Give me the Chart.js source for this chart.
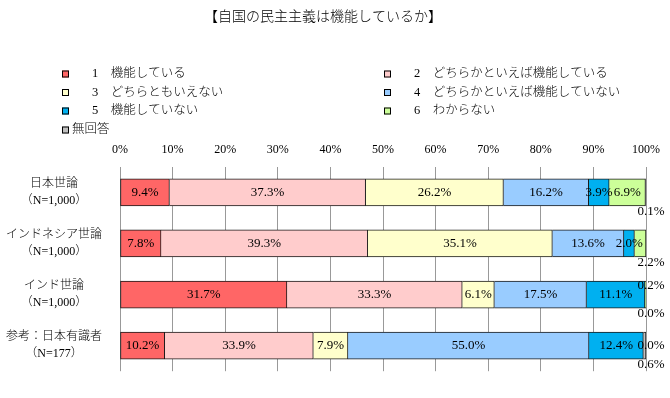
<!DOCTYPE html>
<html>
<head>
<meta charset="utf-8">
<script src="https://cdn.jsdelivr.net/npm/chart.js@4.4.0/dist/chart.umd.min.js"></script>
<style>
  html, body { margin: 0; padding: 0; background: #fff; }
  #wrap { width: 670px; height: 398px; }
</style>
</head>
<body>
<div id="wrap"><canvas id="chart"></canvas></div>
<script>
// Data
const chartTitle = '【自国の民主主義は機能しているか】';
const categories = [
  ['日本世論', '（N=1,000）'],
  ['インドネシア世論', '（N=1,000）'],
  ['インド世論', '（N=1,000）'],
  ['参考：日本有識者', '（N=177）']
];
const seriesNames = [
  '1　機能している',
  '2　どちらかといえば機能している',
  '3　どちらともいえない',
  '4　どちらかといえば機能していない',
  '5　機能していない',
  '6　わからない',
  '無回答'
];
const answer1 = [9.4, 7.8, 31.7, 10.2];
const answer2 = [37.3, 39.3, 33.3, 33.9];
const answer3 = [26.2, 35.1, 6.1, 7.9];
const answer4 = [16.2, 13.6, 17.5, 55.0];
const answer5 = [3.9, 2.0, 11.1, 12.4];
const answer6 = [6.9, 2.2, 0.2, 0.0];
const noAnswer = [0.1, 0.0, 0.0, 0.6];
const tickLabels = ['0%', '10%', '20%', '30%', '40%', '50%', '60%', '70%', '80%', '90%', '100%'];

const seriesValues = [answer1, answer2, answer3, answer4, answer5, answer6, noAnswer];
const colors = ['#FF6666', '#FFCCCC', '#FFFFCC', '#99CCFF', '#00B0F0', '#CCFF99', '#C0C0C0'];

// small segments whose label sits outside the bar ("row,series")
const labelPlacement = {
  '0,6': 'below',
  '1,5': 'below', '1,6': 'none',
  '2,5': 'above', '2,6': 'below',
  '3,5': 'right', '3,6': 'below'
};

const FONT = '"Liberation Serif", "Noto Sans CJK JP", serif';

// each row is drawn as 100% of its own total
const rowTotals = categories.map((c, i) => seriesValues.reduce((s, arr) => s + arr[i], 0));

const datasets = seriesValues.map((vals, k) => ({
  label: seriesNames[k],
  data: vals.map((v, i) => v / rowTotals[i] * 100),
  raw: vals,
  backgroundColor: colors[k],
  borderColor: '#1a1a1a',
  borderWidth: k === 0 ? 1 : { top: 1, right: 1, bottom: 1, left: 0 },
  borderSkipped: false,
  barThickness: 27
}));

// legend in two columns, drawn on the canvas
const legendPlugin = {
  id: 'sheetLegend',
  afterDraw(chart) {
    const ctx = chart.ctx;
    const colX = [62, 384];
    const rowY = [74, 92.5, 111, 130];
    ctx.save();
    ctx.font = '300 12.5px ' + FONT;
    ctx.textBaseline = 'middle';
    seriesNames.forEach((name, k) => {
      const x = colX[k % 2];
      const y = rowY[Math.floor(k / 2)];
      ctx.fillStyle = colors[k];
      ctx.fillRect(x, y - 3.5, 7, 7);
      ctx.strokeStyle = '#000';
      ctx.lineWidth = 1;
      ctx.strokeRect(x + 0.5, y - 3, 6, 6);
      ctx.fillStyle = '#000';
      const tx = /^\d/.test(name) ? x + 30 : x + 10;
      ctx.fillText(name, tx, y);
    });
    ctx.restore();
  }
};

// percentage labels on the segments
const valueLabels = {
  id: 'valueLabels',
  afterDatasetsDraw(chart) {
    const ctx = chart.ctx;
    const right = chart.chartArea.right;
    ctx.save();
    ctx.font = '13px ' + FONT;
    ctx.fillStyle = '#000';
    ctx.textAlign = 'center';
    ctx.textBaseline = 'middle';
    chart.data.datasets.forEach((ds, k) => {
      chart.getDatasetMeta(k).data.forEach((bar, i) => {
        const place = labelPlacement[i + ',' + k] || 'inside';
        if (place === 'none') return;
        const text = ds.raw[i].toFixed(1) + '%';
        let x = (bar.x + bar.base) / 2;
        let y = bar.y;
        if (place === 'below') { x = right + 5; y = bar.y + 19; }
        if (place === 'above') { x = right + 5; y = bar.y - 9; }
        if (place === 'right') { x = right + 5; }
        ctx.fillText(text, x, y);
      });
    });
    ctx.restore();
  }
};

new Chart(document.getElementById('chart'), {
  type: 'bar',
  data: { labels: categories, datasets: datasets },
  options: {
    indexAxis: 'y',
    responsive: true,
    maintainAspectRatio: false,
    animation: false,
    layout: { padding: { left: 0, right: 24, top: 0, bottom: 11 } },
    scales: {
      x: {
        position: 'top',
        stacked: true,
        min: 0,
        max: 100,
        afterFit: s => { s.height = 28; },
        ticks: {
          stepSize: 10,
          padding: 10,
          color: '#000',
          font: { family: FONT, size: 12 },
          callback: v => tickLabels[Math.round(v / 10)]
        },
        grid: { color: '#999', drawTicks: false },
        border: { display: false }
      },
      y: {
        stacked: true,
        afterFit: s => { s.width = 120; },
        ticks: {
          crossAlign: 'center',
          padding: 10,
          color: '#000',
          font: { family: FONT, size: 12, weight: 300, lineHeight: 1.4 }
        },
        grid: { display: false },
        border: { display: false }
      }
    },
    plugins: {
      legend: { display: false },
      tooltip: { enabled: false },
      title: {
        display: true,
        text: chartTitle,
        color: '#000',
        font: { family: FONT, size: 14, weight: 300 },
        padding: { top: 9, bottom: 113 }
      }
    }
  },
  plugins: [legendPlugin, valueLabels]
});
</script>
</body>
</html>
